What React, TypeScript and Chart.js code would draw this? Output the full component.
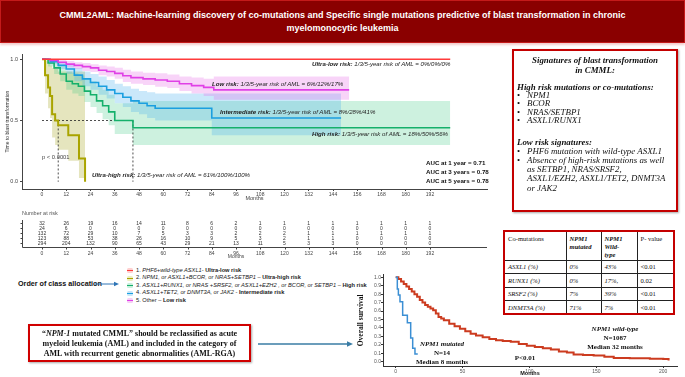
import React, { useEffect, useRef } from 'react';
import { Chart, registerables } from 'chart.js';
Chart.register(...registerables);

const SANS = '"Liberation Sans", Arial, sans-serif';
const SERIF = '"Liberation Serif", "Times New Roman", serif';

// ---------- Top chart: time to blast transformation ----------
const monthTicks = [0, 12, 24, 36, 48, 60, 72, 84, 96, 108, 120, 132, 144, 156, 168, 180, 192];
const blastTicks = [0, 0.5, 1.0];

const ultraLowMonths = [0, 202];
const ultraLowSurv = [1, 1];

const ultraHighMonths = [0, 1.5, 3, 4, 5, 6.5, 8, 13, 18.3, 21.3];
const ultraHighSurv = [1, 0.87, 0.77, 0.7, 0.55, 0.5, 0.46, 0.38, 0.19, 0];
const ultraHighUpper = [1, 0.99, 0.97, 0.95, 0.93, 0.92, 0.9, 0.9, 0.9, 0.9];
const ultraHighLower = [1, 0.72, 0.6, 0.52, 0.36, 0.3, 0.26, 0.17, 0.03, 0];

const highMonths = [0, 3, 6, 9, 12, 15, 18, 21, 24, 27, 30, 33, 36, 45, 202];
const highSurv = [1, 0.97, 0.93, 0.88, 0.82, 0.8, 0.78, 0.74, 0.71, 0.66, 0.62, 0.57, 0.5, 0.44, 0.44];
const highUpper = [1, 0.995, 0.975, 0.94, 0.9, 0.885, 0.87, 0.84, 0.82, 0.78, 0.75, 0.71, 0.64, 0.66, 0.66];
const highLower = [1, 0.94, 0.88, 0.82, 0.75, 0.72, 0.7, 0.65, 0.61, 0.56, 0.51, 0.46, 0.39, 0.3, 0.3];

const interMonths = [0, 4, 8, 12, 16, 20, 24, 28, 32, 36, 40, 44, 48, 52, 56, 84, 148];
const interSurv = [1, 0.98, 0.95, 0.92, 0.87, 0.84, 0.81, 0.78, 0.75, 0.72, 0.69, 0.66, 0.64, 0.62, 0.6, 0.52, 0.52];
const interUpper = [1, 1, 0.98, 0.96, 0.93, 0.9, 0.88, 0.86, 0.83, 0.8, 0.78, 0.76, 0.74, 0.73, 0.72, 0.72, 0.72];
const interLower = [1, 0.96, 0.92, 0.88, 0.82, 0.78, 0.75, 0.71, 0.68, 0.64, 0.61, 0.57, 0.55, 0.52, 0.5, 0.38, 0.38];

const lowMonths = [0, 4, 8, 12, 16, 20, 24, 28, 32, 36, 40, 44, 50, 56, 62, 68, 74, 80, 85, 152];
const lowSurv = [1, 0.99, 0.975, 0.96, 0.95, 0.94, 0.93, 0.91, 0.9, 0.885, 0.865, 0.85, 0.84, 0.83, 0.82, 0.8, 0.785, 0.77, 0.75, 0.75];
const lowUpper = [1, 1, 0.995, 0.985, 0.975, 0.97, 0.96, 0.95, 0.94, 0.93, 0.915, 0.9, 0.89, 0.885, 0.875, 0.86, 0.85, 0.84, 0.86, 0.86];
const lowLower = [1, 0.98, 0.955, 0.935, 0.92, 0.905, 0.895, 0.87, 0.86, 0.84, 0.815, 0.8, 0.79, 0.775, 0.765, 0.74, 0.72, 0.7, 0.67, 0.67];

const medianLevel = 0.5;
const medianMonths = [8, 45];

const nRiskUltraLow = [32, 26, 19, 16, 14, 11, 8, 6, 2, 1, 1, 1, 1, 1, 1, 1, 1];
const nRiskUltraHigh = [24, 6, 0, 0, 0, 0, 0, 0, 0, 0, 0, 0, 0, 0, 0, 0, 0];
const nRiskHigh = [132, 72, 29, 10, 7, 5, 3, 3, 2, 2, 2, 1, 1, 1, 1, 1, 1];
const nRiskInter = [123, 88, 53, 38, 26, 16, 10, 9, 5, 3, 2, 1, 1, 0, 0, 0, 0];
const nRiskLow = [294, 204, 132, 90, 65, 43, 29, 21, 13, 11, 5, 3, 3, 0, 0, 0, 0];

// ---------- Bottom chart: overall survival ----------
const osMonthTicks = [0, 50, 100, 150, 200];
const osSurvTicks = [0, 0.1, 0.2, 0.3, 0.4, 0.5, 0.6, 0.7, 0.8, 0.9, 1.0];
const wtMonths = [0, 2, 4, 6, 8, 10, 12, 14, 16, 18, 20, 22, 24, 26, 28, 30, 32, 34, 36, 40, 44, 48, 52, 56, 60, 65, 70, 75, 80, 86, 92, 98, 104, 110, 116, 122, 128, 133, 140, 148, 156, 163, 175, 190, 200, 204];
const wtSurv = [1, 0.98, 0.95, 0.92, 0.89, 0.86, 0.83, 0.8, 0.77, 0.73, 0.7, 0.67, 0.65, 0.63, 0.61, 0.57, 0.53, 0.51, 0.49, 0.45, 0.42, 0.39, 0.36, 0.33, 0.31, 0.29, 0.27, 0.255, 0.245, 0.235, 0.21, 0.19, 0.175, 0.16, 0.145, 0.12, 0.11, 0.085, 0.08, 0.072, 0.06, 0.045, 0.04, 0.036, 0.033, 0.015];
const mutMonths = [0, 1.2, 2.0, 3.2, 5.2, 8.7, 11.2, 12.7, 14.4, 16.5];
const mutSurv = [1, 0.86, 0.79, 0.71, 0.55, 0.46, 0.28, 0.16, 0.09, 0.09];

// ---------- Table ----------
const coMutGenes = ['ASXL1 (%)', 'RUNX1 (%)', 'SRSF2 (%)', 'DNMT3A (%)'];
const npm1Mutated = ['0%', '0%', '7%', '71%'];
const npm1WildType = ['43%', '17%,', '39%', '7%'];
const pValues = ['<0.01', '0.02', '<0.01', '<0.01'];

const COL = {
  ultraLow: '#ff3b3b',
  ultraHigh: '#a9a400',
  high: '#15b06b',
  inter: '#1b9fe0',
  low: '#e040e6',
};

const pts = (xs: number[], ys: number[]) => xs.map((x, i) => ({ x, y: ys[i] }));
const step = { stepped: 'before' as const, pointRadius: 0, tension: 0 };

function band(months: number[], upper: number[], lower: number[], color: string) {
  return [
    { data: pts(months, upper), borderWidth: 0, borderColor: 'rgba(0,0,0,0)', backgroundColor: color, fill: '+1', order: 2, ...step },
    { data: pts(months, lower), borderWidth: 0, borderColor: 'rgba(0,0,0,0)', backgroundColor: 'rgba(0,0,0,0)', fill: false, order: 2, ...step },
  ];
}
function curve(months: number[], surv: number[], color: string, width = 1.6) {
  return { data: pts(months, surv), borderColor: color, borderWidth: width, fill: false, order: 0, ...step };
}

const riskTablePlugin = {
  id: 'riskTable',
  afterDraw(chart: any) {
    const ctx = chart.ctx;
    const xs = chart.scales.x;
    const rows = [nRiskUltraLow, nRiskUltraHigh, nRiskHigh, nRiskInter, nRiskLow];
    ctx.save();
    ctx.fillStyle = '#555';
    ctx.font = `5.5px ${SANS}`;
    ctx.textBaseline = 'middle';
    ctx.textAlign = 'left';
    ctx.fillText('Number at risk', 22, 168);
    ctx.fillStyle = '#333';
    ctx.font = `5px ${SANS}`;
    ctx.textAlign = 'center';
    rows.forEach((row, r) => {
      row.forEach((n, i) => {
        ctx.fillText(String(n), xs.getPixelForValue(monthTicks[i]), 178.3 + r * 5);
      });
    });
    ctx.strokeStyle = '#444';
    ctx.lineWidth = 1;
    ctx.beginPath();
    ctx.moveTo(22.5, 175);
    ctx.lineTo(22.5, 202.5);
    ctx.lineTo(487, 202.5);
    monthTicks.forEach((m) => {
      const x = Math.round(xs.getPixelForValue(m)) + 0.5;
      ctx.moveTo(x, 202.5);
      ctx.lineTo(x, 204.5);
    });
    for (let r = 0; r < 5; r++) {
      ctx.moveTo(20.5, 178.5 + r * 5);
      ctx.lineTo(22.5, 178.5 + r * 5);
    }
    ctx.stroke();
    ctx.fillStyle = '#444';
    ctx.textBaseline = 'top';
    ctx.font = `5px ${SANS}`;
    monthTicks.forEach((m) => ctx.fillText(String(m), xs.getPixelForValue(m), 206));
    ctx.textBaseline = 'middle';
    ctx.fillText('Months', xs.getPixelForValue(96), 212);
    ctx.restore();
  },
};

function topConfig(): any {
  return {
    type: 'line',
    data: {
      datasets: [
        curve(ultraLowMonths, ultraLowSurv, COL.ultraLow),
        curve(lowMonths, lowSurv, COL.low),
        curve(interMonths, interSurv, COL.inter),
        curve(highMonths, highSurv, COL.high),
        curve(ultraHighMonths, ultraHighSurv, COL.ultraHigh, 2),
        { data: [{ x: 0, y: medianLevel }, { x: medianMonths[1], y: medianLevel }], borderColor: '#222', borderWidth: 0.8, borderDash: [2, 2], pointRadius: 0, fill: false, order: 0 },
        { data: [{ x: medianMonths[0], y: medianLevel }, { x: medianMonths[0], y: 0 }], borderColor: '#222', borderWidth: 0.8, borderDash: [2, 2], pointRadius: 0, fill: false, order: 0 },
        { data: [{ x: medianMonths[1], y: medianLevel }, { x: medianMonths[1], y: 0 }], borderColor: '#222', borderWidth: 0.8, borderDash: [2, 2], pointRadius: 0, fill: false, order: 0 },
        ...band(lowMonths, lowUpper, lowLower, 'rgba(230,100,230,0.28)'),
        ...band(interMonths, interUpper, interLower, 'rgba(80,180,240,0.3)'),
        ...band(highMonths, highUpper, highLower, 'rgba(60,200,130,0.26)'),
        ...band(ultraHighMonths, ultraHighUpper, ultraHighLower, 'rgba(170,170,40,0.3)'),
      ],
    },
    options: {
      responsive: false,
      animation: false,
      events: [],
      layout: { padding: { left: 0, right: 13, top: 9, bottom: 61 } },
      plugins: { legend: { display: false }, tooltip: { enabled: false } },
      scales: {
        x: {
          type: 'linear',
          min: -9.9,
          max: 220.2,
          afterBuildTicks: (s: any) => { s.ticks = monthTicks.map((v) => ({ value: v })); },
          afterFit: (s: any) => { s.height = 13; },
          grid: { drawOnChartArea: false, drawTicks: true, tickLength: 2, color: '#444' },
          border: { display: true, color: '#444', width: 1 },
          ticks: { font: { family: SANS, size: 5 }, color: '#444', padding: 1, maxRotation: 0, autoSkip: false },
          title: { display: true, text: 'Months', font: { family: SANS, size: 5.5 }, color: '#444', padding: { top: 0, bottom: 0 } },
        },
        y: {
          type: 'linear',
          min: -0.06,
          max: 1.043,
          afterBuildTicks: (s: any) => { s.ticks = blastTicks.map((v) => ({ value: v })); },
          afterFit: (s: any) => { s.width = 22; },
          grid: { drawOnChartArea: false, drawTicks: true, tickLength: 2, color: '#444' },
          border: { display: true, color: '#444', width: 1 },
          ticks: { font: { family: SANS, size: 5.5 }, color: '#444', padding: 2, callback: (v: any) => Number(v).toFixed(1) },
          title: { display: true, text: 'Time to blast transformation', font: { family: SANS, size: 5 }, color: '#333', padding: { top: 5, bottom: 0 } },
        },
      },
    },
    plugins: [riskTablePlugin],
  };
}

function osConfig(): any {
  return {
    type: 'line',
    data: {
      datasets: [
        { data: pts(mutMonths, mutSurv), borderColor: '#3b8fd4', borderWidth: 1.5, fill: false, ...step },
        { data: pts(wtMonths, wtSurv), borderColor: '#cc3b1f', borderWidth: 2, fill: false, ...step },
      ],
    },
    options: {
      responsive: false,
      animation: false,
      events: [],
      layout: { padding: { left: 0, right: 8, top: 4.7, bottom: 0 } },
      plugins: { legend: { display: false }, tooltip: { enabled: false } },
      scales: {
        x: {
          type: 'linear',
          min: -9.5,
          max: 210.3,
          afterBuildTicks: (s: any) => { s.ticks = osMonthTicks.map((v) => ({ value: v })); },
          afterFit: (s: any) => { s.height = 11; },
          grid: { drawOnChartArea: false, drawTicks: true, tickLength: 2, color: '#333' },
          border: { display: true, color: '#333', width: 1 },
          ticks: { font: { family: SANS, size: 5 }, color: '#555', padding: 1, maxRotation: 0, autoSkip: false },
          title: { display: true, text: 'Months', font: { family: SANS, size: 5.5, weight: 'bold' }, color: '#111', padding: { top: 0, bottom: 0 } },
        },
        y: {
          type: 'linear',
          min: -0.051,
          max: 1.03,
          afterBuildTicks: (s: any) => { s.ticks = osSurvTicks.map((v) => ({ value: v })); },
          afterFit: (s: any) => { s.width = 33; },
          grid: { drawOnChartArea: false, drawTicks: true, tickLength: 2, color: '#333' },
          border: { display: true, color: '#333', width: 1 },
          ticks: { font: { family: SANS, size: 5 }, color: '#555', padding: 0, autoSkip: false, callback: (v: any) => Number(v).toFixed(1) },
          title: { display: true, text: 'Overall survival', font: { family: SERIF, size: 7.5, weight: 'bold' }, color: '#111', padding: { top: 7, bottom: 0 } },
        },
      },
    },
  };
}

const T = ({ x, y, children, style, center }: any) => (
  <div
    style={{
      position: 'absolute',
      left: x,
      top: y,
      whiteSpace: 'nowrap',
      lineHeight: 1,
      transform: center ? 'translate(-50%, -50%)' : 'translate(0, -50%)',
      ...style,
    }}
  >
    {children}
  </div>
);

const annot = { fontFamily: SANS, fontSize: 6.1, fontStyle: 'italic', color: '#222' };
const legendText = { fontFamily: SANS, fontSize: 5.7, color: '#222' };
const boxText = { fontFamily: SERIF, fontSize: 8.9, fontStyle: 'italic', color: '#111' };
const osText = { fontFamily: SERIF, fontSize: 7, fontWeight: 'bold', color: '#111' };

const Swatch = ({ x, y, color, fill }: any) => (
  <div style={{ position: 'absolute', left: x, top: y - 2.5, width: 6, height: 5, borderRadius: 1.5, background: fill }}>
    <div style={{ position: 'absolute', left: 0, right: 0, top: 2, height: 1, background: color }} />
  </div>
);

export default function App() {
  const topRef = useRef<HTMLCanvasElement>(null);
  const osRef = useRef<HTMLCanvasElement>(null);

  useEffect(() => {
    document.body.style.margin = '0';
    const charts: Chart[] = [];
    if (topRef.current) charts.push(new Chart(topRef.current, topConfig()));
    if (osRef.current) charts.push(new Chart(osRef.current, osConfig()));
    return () => charts.forEach((c) => c.destroy());
  }, []);

  const legendRows = [270.5, 278.1, 285.7, 293.3, 300.9];
  const cell: any = { border: '0.8px solid #222', padding: '0 3px', fontFamily: SERIF, fontSize: 6.6, color: '#111', textAlign: 'left' };
  const hcell: any = { ...cell, verticalAlign: 'top', paddingTop: 3, lineHeight: '8px' };

  return (
    <div style={{ position: 'absolute', left: 0, top: 0, width: 685, height: 377, overflow: 'hidden', background: '#fff' }}>
      {/* Banner */}
      <div
        style={{
          position: 'absolute', left: 0, top: 0, width: 685, height: 43, boxSizing: 'border-box',
          background: '#8a0000', border: '1px solid #c41a1a', boxShadow: '0 2px 2px rgba(220,110,110,0.35)',
          color: '#fff', fontFamily: SANS, fontWeight: 'bold', fontSize: 9, lineHeight: '13px', textAlign: 'center', paddingTop: 8,
        }}
      >
        CMML2AML: Machine-learning discovery of co-mutations and Specific single mutations predictive of blast transformation in chronic
        <br />
        myelomonocytic leukemia
      </div>

      {/* Top KM chart */}
      <canvas ref={topRef} width={500} height={218} style={{ position: 'absolute', left: 0, top: 45, width: 500, height: 218 }} />

      <T x={312} y={64} style={annot}><b>Ultra-low risk:</b> 1/3/5-year risk of AML = 0%/0%/0%</T>
      <T x={212} y={84} style={annot}><b>Low risk:</b> 1/3/5-year risk of AML = 6%/12%/17%</T>
      <T x={220} y={112.3} style={annot}><b>Intermediate risk:</b> 1/3/5-year risk of AML = 8%/28%/41%</T>
      <T x={312} y={134.3} style={annot}><b>High risk:</b> 1/3/5-year risk of AML = 18%/50%/56%</T>
      <T x={92} y={175} style={annot}><b>Ultra-high risk:</b> 1/3/5-year risk of AML = 61%/100%/100%</T>
      <T x={42} y={158.3} style={{ fontFamily: SANS, fontSize: 5.8, color: '#444' }}>p &lt; 0.0001</T>
      <T x={426} y={162.5} style={{ fontFamily: SANS, fontSize: 6.2, fontWeight: 'bold', color: '#111' }}>AUC at 1 year = 0.71</T>
      <T x={426} y={171.5} style={{ fontFamily: SANS, fontSize: 6.2, fontWeight: 'bold', color: '#111' }}>AUC at 3 years = 0.78</T>
      <T x={426} y={180.5} style={{ fontFamily: SANS, fontSize: 6.2, fontWeight: 'bold', color: '#111' }}>AUC at 5 years = 0.78</T>

      {/* Legend */}
      <Swatch x={127} y={legendRows[0]} color={COL.ultraLow} fill="#ffd0d0" />
      <Swatch x={127} y={legendRows[1]} color={COL.ultraHigh} fill="#eeeec0" />
      <Swatch x={127} y={legendRows[2]} color={COL.high} fill="#c8f0dc" />
      <Swatch x={127} y={legendRows[3]} color={COL.inter} fill="#c6e6f8" />
      <Swatch x={127} y={legendRows[4]} color={COL.low} fill="#f6cff6" />
      <T x={136} y={legendRows[0]} style={legendText}>1. <i>PHF6+wild-type ASXL1</i>- <b>Ultra-low risk</b></T>
      <T x={136} y={legendRows[1]} style={legendText}>2. <i>NPM1, or ASXL1+BCOR, or NRAS+SETBP1</i> – <b>Ultra-high risk</b></T>
      <T x={136} y={legendRows[2]} style={legendText}>3. <i>ASXL1+RUNX1, or NRAS +SRSF2, or ASXL1+EZH2 , or BCOR, or SETBP1</i> – <b>High risk</b></T>
      <T x={136} y={legendRows[3]} style={legendText}>4. <i>ASXL1+TET2, or DNMT3A, or JAK2</i> - <b>Intermediate risk</b></T>
      <T x={136} y={legendRows[4]} style={legendText}>5. Other – <b>Low risk</b></T>

      <T x={18} y={284} style={{ fontFamily: SANS, fontSize: 7.2, fontWeight: 'bold', color: '#111' }}>Order of class allocation</T>

      <svg width={685} height={377} style={{ position: 'absolute', left: 0, top: 0, pointerEvents: 'none' }}>
        <line x1={95} y1={284} x2={116} y2={284} stroke="#2e75b6" strokeWidth={1} />
        <polygon points="119,284 114,281.8 114,286.2" fill="#2e75b6" />
        <line x1={258} y1={344} x2={349} y2={344} stroke="#3a7ca5" strokeWidth={1.4} />
        <polygon points="353,344 347,341.3 347,346.7" fill="#3a7ca5" />
      </svg>

      {/* Signatures box */}
      <div
        style={{
          position: 'absolute', left: 512, top: 49, width: 166, height: 163, boxSizing: 'border-box',
          border: '2.5px solid #c40000', boxShadow: '1px 1px 2px rgba(0,0,0,0.35)', background: '#fff',
        }}
      />
      <T x={595} y={60} center style={{ ...boxText, fontWeight: 'bold' }}>Signatures of blast transformation</T>
      <T x={595} y={70} center style={{ ...boxText, fontWeight: 'bold' }}>in CMML:</T>
      <T x={517} y={86.7} style={{ ...boxText, fontWeight: 'bold' }}>High risk mutations or co-mutations:</T>
      {['NPM1', 'BCOR', 'NRAS/SETBP1', 'ASXL1/RUNX1'].map((g, i) => (
        <React.Fragment key={g}>
          <T x={517} y={95 + i * 8.35} style={{ ...boxText, fontStyle: 'normal' }}>•</T>
          <T x={527} y={95 + i * 8.35} style={boxText}>{g}</T>
        </React.Fragment>
      ))}
      <T x={517} y={142.3} style={{ ...boxText, fontWeight: 'bold' }}>Low risk signatures:</T>
      <T x={517} y={151} style={{ ...boxText, fontStyle: 'normal' }}>•</T>
      <T x={527} y={151} style={boxText}>PHF6 mutation with wild-type ASXL1</T>
      <T x={517} y={160} style={{ ...boxText, fontStyle: 'normal' }}>•</T>
      <T x={527} y={160} style={boxText}>Absence of high-risk mutations as well</T>
      <T x={527} y={169} style={boxText}>as SETBP1, NRAS/SRSF2,</T>
      <T x={527} y={178.3} style={boxText}>ASXL1/EZH2, ASXL1/TET2, DNMT3A</T>
      <T x={527} y={187.7} style={boxText}>or JAK2</T>

      {/* Co-mutation table */}
      <table
        style={{
          position: 'absolute', left: 503, top: 230, width: 170, borderCollapse: 'collapse', tableLayout: 'fixed',
          border: '2px solid #c40000', background: '#fff',
        }}
      >
        <colgroup>
          <col style={{ width: 62 }} />
          <col style={{ width: 35 }} />
          <col style={{ width: 36 }} />
          <col style={{ width: 37 }} />
        </colgroup>
        <tbody>
          <tr style={{ height: 29 }}>
            <td style={hcell}>Co-mutations</td>
            <td style={{ ...hcell, fontWeight: 'bold', fontStyle: 'italic' }}>NPM1<br />mutated</td>
            <td style={{ ...hcell, fontWeight: 'bold', fontStyle: 'italic' }}>NPM1<br />Wild-<br />type</td>
            <td style={hcell}>P- value</td>
          </tr>
          {coMutGenes.map((g, i) => (
            <tr key={g} style={{ height: 13.5 }}>
              <td style={{ ...cell, fontStyle: 'italic' }}>{g}</td>
              <td style={{ ...cell, fontStyle: 'italic' }}>{npm1Mutated[i]}</td>
              <td style={{ ...cell, fontStyle: 'italic' }}>{npm1WildType[i]}</td>
              <td style={cell}>{pValues[i]}</td>
            </tr>
          ))}
        </tbody>
      </table>

      {/* NPM-1 box */}
      <div
        style={{
          position: 'absolute', left: 28, top: 324, width: 223, height: 38, boxSizing: 'border-box',
          border: '2.5px solid #d00000', boxShadow: '1px 1px 2px rgba(0,0,0,0.35)', background: '#fff',
          fontFamily: SERIF, fontWeight: 'bold', fontSize: 8, lineHeight: '10px', textAlign: 'center', color: '#111', paddingTop: 3,
        }}
      >
        “<i>NPM-1</i> mutated CMML” should be reclassified as acute
        <br />
        myeloid leukemia (AML) and included in the category of
        <br />
        AML with recurrent genetic abnormalities (AML-RGA)
      </div>

      {/* Overall survival chart */}
      <canvas ref={osRef} width={335} height={107} style={{ position: 'absolute', left: 350, top: 270, width: 335, height: 107 }} />
      <T x={442} y={344} center style={{ ...osText, fontStyle: 'italic' }}>NPM1 mutated</T>
      <T x={442} y={352.7} center style={osText}>N=14</T>
      <T x={442} y={361.7} center style={osText}>Median 8 months</T>
      <T x={525} y={358} center style={osText}>P&lt;0.01</T>
      <T x={615} y={329} center style={{ ...osText, fontStyle: 'italic' }}>NPM1 wild-type</T>
      <T x={615} y={337.7} center style={osText}>N=1087</T>
      <T x={615} y={346.7} center style={osText}>Median 32 months</T>
    </div>
  );
}
